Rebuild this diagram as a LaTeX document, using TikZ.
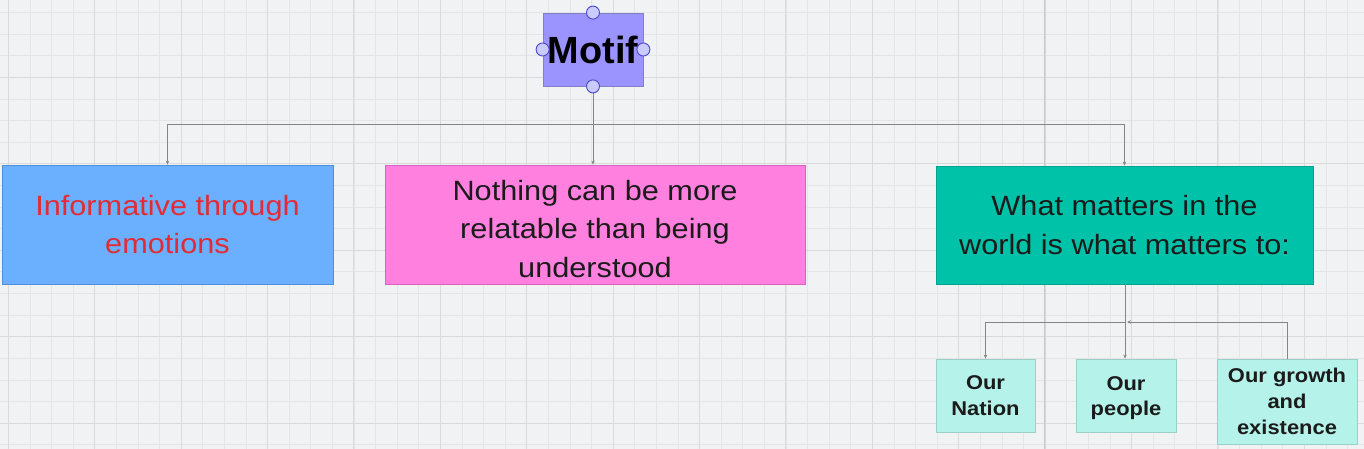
\documentclass[tikz,border=0pt]{standalone}
\usepackage{fontspec}
\setmainfont{Liberation Sans}[FakeStretch=1.1]
\newfontfamily\plainsans{Liberation Sans}
\usetikzlibrary{arrows.meta}
\definecolor{bgc}{HTML}{F1F2F4}
\definecolor{minorc}{HTML}{E4E5E7}
\definecolor{majorc}{HTML}{D9DADC}
\definecolor{motiffill}{HTML}{9B94FF}
\definecolor{motifdraw}{HTML}{8080C8}
\definecolor{bluefill}{HTML}{6BAFFF}
\definecolor{bluedraw}{HTML}{4F8FDA}
\definecolor{pinkfill}{HTML}{FF80DF}
\definecolor{pinkdraw}{HTML}{D862BC}
\definecolor{tealfill}{HTML}{00C2A8}
\definecolor{tealdraw}{HTML}{00A48E}
\definecolor{mintfill}{HTML}{B5F2E9}
\definecolor{mintdraw}{HTML}{98CFC7}
\definecolor{redtext}{HTML}{E22B35}
\definecolor{darktext}{HTML}{1B1B1B}
\definecolor{linec}{HTML}{858585}
\definecolor{handlefill}{HTML}{CACAFF}
\definecolor{handledraw}{HTML}{4848CC}
\tikzset{
  boxbase/.style={rectangle, inner sep=0pt, align=center, line width=0.8bp},
  bigtext/.style={font=\fontsize{28}{39}\selectfont, text=darktext},
  smalltext/.style={font=\fontsize{20}{26}\selectfont\bfseries, text=darktext},
  leafbox/.style={boxbase, fill=mintfill, draw=mintdraw, smalltext},
  conn/.style={draw=linec, line width=1bp},
  arr/.style={conn, -{Stealth[length=4bp,width=3.5bp]}},
  handle/.style={circle, minimum size=13bp, inner sep=0pt, fill=handlefill, draw=handledraw, line width=0.9bp}
}
\begin{document}
\begin{tikzpicture}[x=1bp,y=-1bp]
\useasboundingbox (0,0) rectangle (1364,449);
\fill[bgc] (0,0) rectangle (1364,449);
% minor grid
\foreach \i in {0,...,63} {\draw[minorc, line width=0.8bp] ({8.3+21.6*\i},0) -- ({8.3+21.6*\i},449);}
\foreach \i in {0,...,20} {\draw[minorc, line width=0.8bp] (0,{12.7+21.6*\i}) -- (1364,{12.7+21.6*\i});}
% major grid
\foreach \i in {0,...,15} {\draw[majorc, line width=0.9bp] ({8.3+86.4*\i},0) -- ({8.3+86.4*\i},449);}
\foreach \i in {0,...,4} {\draw[majorc, line width=0.9bp] (0,{77.5+86.4*\i}) -- (1364,{77.5+86.4*\i});}
\draw[black!22, line width=1bp] (1044,0) -- (1044,449);

% nodes
\node[boxbase, fill=motiffill, draw=motifdraw, minimum width=100bp, minimum height=73bp,
      font=\plainsans\fontsize{38}{40}\selectfont\bfseries, text=black] (motif) at (593,49.5) {Motif};
\node[boxbase, fill=bluefill, draw=bluedraw, minimum width=331bp, minimum height=119bp,
      bigtext, text=redtext] (info) at (167.5,224.5) {Informative through\\emotions};
\node[boxbase, fill=pinkfill, draw=pinkdraw, minimum width=420bp, minimum height=119bp,
      bigtext] (relate) at (595,224.5) {\raisebox{-6.7bp}[\height][\depth]{\begin{tabular}{@{}c@{}}Nothing can be more\\relatable than being\\understood\end{tabular}}};
\node[boxbase, fill=tealfill, draw=tealdraw, minimum width=377bp, minimum height=118bp,
      bigtext] (what) at (1124.5,225) {What matters in the\\world is what matters to:};
\node[leafbox, minimum width=99bp, minimum height=73bp] (nation) at (985.5,395.5) {Our\\Nation};
\node[leafbox, minimum width=100bp, minimum height=73bp] (people) at (1126,395.5) {\raisebox{-2.3bp}[\height][\depth]{\begin{tabular}{@{}c@{}}Our\\people\end{tabular}}};
\node[leafbox, minimum width=140bp, minimum height=85bp] (growth) at (1287,401.5) {Our growth\\and\\existence};

% connectors
\coordinate (j1) at (593,125);
\coordinate (j2) at (1125,322);
\coordinate (j2r) at (1127,322);
\draw[conn] (motif.south) -- (j1);
\draw[arr] (j1) -| (info.north);
\draw[arr] (j1) -- (j1 |- relate.north);
\draw[arr] (j1) -| (what.north);
\draw[conn] (j2 |- what.south) -- (j2);
\draw[arr] (j2) -| (nation.north);
\draw[arr] (j2) -- (j2 |- people.north);
\draw[arr] (growth.north) |- (j2r);

% selection handles
\node[handle] (h1) at (motif.north) {};
\node[handle] (h2) at (motif.west) {};
\node[handle] (h3) at (motif.east) {};
\node[handle] (h4) at (motif.south) {};
\end{tikzpicture}
\end{document}
